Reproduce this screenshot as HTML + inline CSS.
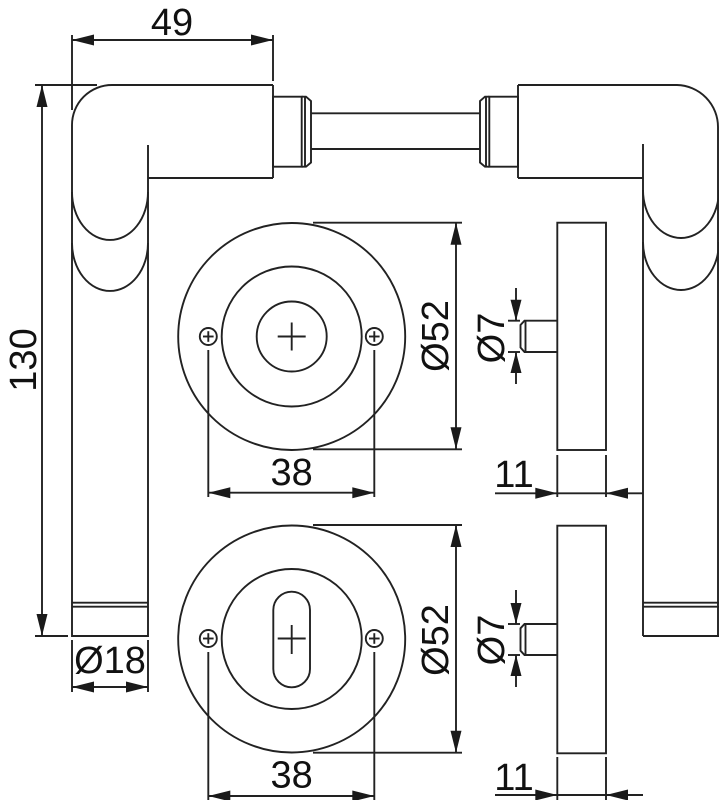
<!DOCTYPE html>
<html><head><meta charset="utf-8"><style>
html,body{margin:0;padding:0;background:#fff;}
svg{display:block;}
text{font-family:"Liberation Sans","DejaVu Sans",sans-serif;font-size:38px;fill:#111;}
</style></head><body>
<svg width="719" height="800" viewBox="0 0 719 800" xmlns="http://www.w3.org/2000/svg">
<g fill="none" stroke="#222" stroke-width="1.9">
<!-- 49 dimension -->
<line x1="72" y1="35" x2="72" y2="110"/>
<line x1="273" y1="35" x2="273" y2="81"/>
<line x1="72" y1="40" x2="273" y2="40"/>
<!-- left handle -->
<path d="M273,85 H112 A40,40 0 0 0 72,125 V636 H148 V145"/>
<line x1="148" y1="178" x2="273" y2="178"/>
<line x1="273" y1="85" x2="273" y2="178"/>
<path d="M72,192 A38,48 0 0 0 148,192"/>
<path d="M72,243 A38,48 0 0 0 148,243"/>
<line x1="72" y1="602.7" x2="148" y2="602.7"/>
<line x1="72" y1="606.7" x2="148" y2="606.7"/>
<!-- 130 dimension -->
<line x1="35" y1="85" x2="97" y2="85"/>
<line x1="35" y1="636" x2="68" y2="636"/>
<line x1="42" y1="85" x2="42" y2="636"/>
<!-- 18 dim -->
<line x1="72" y1="640" x2="72" y2="692"/>
<line x1="148" y1="640" x2="148" y2="692"/>
<line x1="72" y1="687" x2="148" y2="687"/>
<!-- necks + spindle -->
<rect x="273" y="96.7" width="28.7" height="70"/>
<path d="M301.7,96.7 H306 L311,101 V162.5 L306,166.7 H301.7"/>
<line x1="305" y1="96.7" x2="305" y2="166.7"/>
<line x1="311" y1="113.3" x2="480" y2="113.3"/>
<line x1="311" y1="149" x2="480" y2="149"/>
<rect x="489.3" y="96.7" width="28.7" height="70"/>
<path d="M489.3,96.7 H485 L480,101 V162.5 L485,166.7 H489.3"/>
<line x1="486" y1="96.7" x2="486" y2="166.7"/>
<!-- right handle -->
<path d="M518,85 H677 A42,42 0 0 1 718,127 V636"/>
<line x1="518" y1="85" x2="518" y2="178"/>
<line x1="518" y1="178" x2="643" y2="178"/>
<line x1="643" y1="144" x2="643" y2="636"/>
<path d="M643,190 A38,48 0 0 0 719,190"/>
<path d="M643,242 A38,48 0 0 0 719,242"/>
<line x1="643" y1="602.7" x2="719" y2="602.7"/>
<line x1="643" y1="606.7" x2="719" y2="606.7"/>
<line x1="643" y1="636" x2="719" y2="636"/>

<!-- rose 1 -->
<circle cx="291.7" cy="336.5" r="113.5"/>
<circle cx="291.7" cy="336.5" r="70"/>
<circle cx="291.7" cy="336.5" r="35"/>
<line x1="277.7" y1="336.5" x2="305.7" y2="336.5"/>
<line x1="291.7" y1="322.5" x2="291.7" y2="350.5"/>
<circle cx="208.3" cy="336.5" r="8.5"/>
<line x1="203" y1="336.5" x2="213.6" y2="336.5"/><line x1="208.3" y1="331.2" x2="208.3" y2="341.8"/>
<circle cx="374.3" cy="336.5" r="8.5"/>
<line x1="369" y1="336.5" x2="379.6" y2="336.5"/><line x1="374.3" y1="331.2" x2="374.3" y2="341.8"/>
<line x1="208.3" y1="350" x2="208.3" y2="497"/>
<line x1="374.3" y1="350" x2="374.3" y2="497"/>
<line x1="208.3" y1="492.7" x2="374.3" y2="492.7"/>
<line x1="313" y1="222.7" x2="462" y2="222.7"/>
<line x1="313" y1="449.3" x2="462" y2="449.3"/>
<line x1="456" y1="222.7" x2="456" y2="449.3"/>
<!-- side 1 -->
<rect x="557.3" y="222.7" width="48.7" height="227.3"/>
<path d="M557.3,320.7 H524.5 L520.5,325 V347.5 L524.5,352 H557.3"/>
<line x1="525.5" y1="320.7" x2="525.5" y2="352"/>
<line x1="508" y1="320.7" x2="520" y2="320.7"/>
<line x1="508" y1="352" x2="520" y2="352"/>
<line x1="516" y1="288" x2="516" y2="320.7"/>
<line x1="516" y1="352" x2="516" y2="384"/>
<line x1="557.3" y1="455" x2="557.3" y2="497"/>
<line x1="606" y1="455" x2="606" y2="497"/>
<line x1="495" y1="493.3" x2="643" y2="493.3"/>

<!-- rose 2 -->
<circle cx="291.7" cy="639" r="113.5"/>
<circle cx="291.7" cy="639" r="70"/>
<rect x="273.3" y="591.7" width="36.7" height="95.6" rx="18.35" ry="18.35"/>
<line x1="277.7" y1="638.5" x2="305.7" y2="638.5"/>
<line x1="291.7" y1="625" x2="291.7" y2="654"/>
<circle cx="208.3" cy="638.5" r="8.5"/>
<line x1="203" y1="638.5" x2="213.6" y2="638.5"/><line x1="208.3" y1="633.2" x2="208.3" y2="643.8"/>
<circle cx="374.3" cy="638.5" r="8.5"/>
<line x1="369" y1="638.5" x2="379.6" y2="638.5"/><line x1="374.3" y1="633.2" x2="374.3" y2="643.8"/>
<line x1="208.3" y1="652" x2="208.3" y2="800"/>
<line x1="374.3" y1="652" x2="374.3" y2="800"/>
<line x1="208.3" y1="796" x2="374.3" y2="796"/>
<line x1="313" y1="525" x2="462" y2="525"/>
<line x1="313" y1="752.7" x2="462" y2="752.7"/>
<line x1="456" y1="525" x2="456" y2="752.7"/>
<!-- side 2 -->
<rect x="557.3" y="525.7" width="48.7" height="227.6"/>
<path d="M557.3,624 H524.5 L520.5,628.3 V650.7 L524.5,655 H557.3"/>
<line x1="525.5" y1="624" x2="525.5" y2="655"/>
<line x1="508" y1="624" x2="520" y2="624"/>
<line x1="508" y1="655" x2="520" y2="655"/>
<line x1="516" y1="590" x2="516" y2="624"/>
<line x1="516" y1="655" x2="516" y2="687"/>
<line x1="557.3" y1="757" x2="557.3" y2="800"/>
<line x1="606" y1="757" x2="606" y2="800"/>
<line x1="495" y1="795" x2="643" y2="795"/>
</g>

<!-- arrowheads -->
<g fill="#1a1a1a" stroke="none">
<polygon points="72,40 94,34.5 94,45.5"/>
<polygon points="273,40 251,34.5 251,45.5"/>
<polygon points="42,85 36.5,107 47.5,107"/>
<polygon points="42,636 36.5,614 47.5,614"/>
<polygon points="72,687 94,681.5 94,692.5"/>
<polygon points="148,687 126,681.5 126,692.5"/>

<polygon points="208.3,492.7 230.3,487.2 230.3,498.2"/>
<polygon points="374.3,492.7 352.3,487.2 352.3,498.2"/>
<polygon points="456,222.7 450.5,244.7 461.5,244.7"/>
<polygon points="456,449.3 450.5,427.3 461.5,427.3"/>
<polygon points="516,320.7 510.5,299.7 521.5,299.7"/>
<polygon points="516,352 510.5,373 521.5,373"/>
<polygon points="557.3,493.3 535.3,487.8 535.3,498.8"/>
<polygon points="606,493.3 628,487.8 628,498.8"/>

<polygon points="208.3,796 230.3,790.5 230.3,801.5"/>
<polygon points="374.3,796 352.3,790.5 352.3,801.5"/>
<polygon points="456,525 450.5,547 461.5,547"/>
<polygon points="456,752.7 450.5,730.7 461.5,730.7"/>
<polygon points="516,624 510.5,603 521.5,603"/>
<polygon points="516,655 510.5,676 521.5,676"/>
<polygon points="557.3,795 535.3,789.5 535.3,800.5"/>
<polygon points="606,795 628,789.5 628,800.5"/>
</g>

<!-- labels -->
<text x="172" y="35" text-anchor="middle">49</text>
<text x="0" y="0" text-anchor="middle" transform="translate(36,360) rotate(-90)">130</text>
<text x="110" y="673" text-anchor="middle">Ø18</text>
<text x="291.7" y="485" text-anchor="middle">38</text>
<text x="0" y="0" text-anchor="middle" transform="translate(448,336) rotate(-90)">Ø52</text>
<text x="0" y="0" text-anchor="middle" transform="translate(504,338) rotate(-90)">Ø7</text>
<text x="514" y="487" text-anchor="middle">11</text>
<text x="291.7" y="787.5" text-anchor="middle">38</text>
<text x="0" y="0" text-anchor="middle" transform="translate(448,640) rotate(-90)">Ø52</text>
<text x="0" y="0" text-anchor="middle" transform="translate(504,640) rotate(-90)">Ø7</text>
<text x="514" y="790" text-anchor="middle">11</text>
</svg>
</body></html>
